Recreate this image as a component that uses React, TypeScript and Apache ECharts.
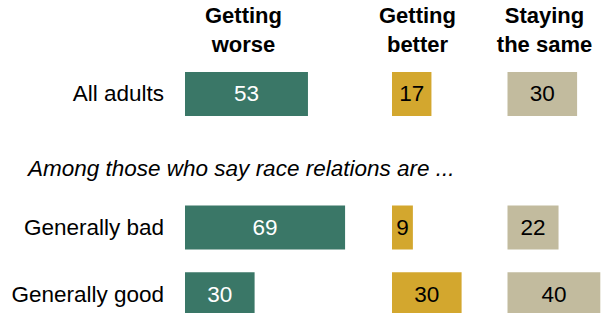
import React, { useEffect, useRef } from "react";
import * as echarts from "echarts";

const categories = ["All adults", "", "Generally bad", "Generally good"];
const worse = [53, null, 69, 30];
const better = [17, null, 9, 30];
const same = [30, null, 22, 40];
const headers = ["Getting\nworse", "Getting\nbetter", "Staying\nthe same"];
const subhead = "Among those who say race relations are ...";

const GREEN = "#3a7767";
const GOLD = "#d3a72e";
const BEIGE = "#c2bb9e";
const FONT = "'Liberation Sans', Arial, sans-serif";

export default function App() {
  const ref = useRef<HTMLDivElement>(null);
  useEffect(() => {
    if (!ref.current) return;
    const chart = echarts.init(ref.current, undefined, { renderer: "svg" });
    const lefts = [185, 392, 507.5];
    const scaleW = 232;
    const grids = lefts.map((l) => ({
      left: l,
      width: scaleW,
      top: 60.5,
      height: 267,
      outerBoundsMode: "none",
      containLabel: false,
    }));
    const xAxes = lefts.map((_, i) => ({
      type: "value",
      gridIndex: i,
      min: 0,
      max: 100,
      show: false,
    }));
    const yAxes = lefts.map((_, i) => ({
      type: "category",
      gridIndex: i,
      data: categories,
      inverse: true,
      show: i === 0,
      axisLine: { show: false },
      axisTick: { show: false },
      axisLabel: {
        show: i === 0,
        margin: 21,
        fontSize: 22.5,
        color: "#000",
        fontFamily: FONT,
      },
    }));
    const mk = (data: (number | null)[], i: number, color: string, lc: string) => ({
      type: "bar",
      xAxisIndex: i,
      yAxisIndex: i,
      data: data.map((v) => (v == null ? "-" : v)),
      barWidth: 44,
      itemStyle: { color },
      label: {
        show: true,
        position: "inside",
        color: lc,
        fontSize: 22.5,
        fontFamily: FONT,
      },
    });
    const headerCenters = [243.5, 417.5, 544.5];
    chart.setOption({
      animation: false,
      grid: grids,
      xAxis: xAxes,
      yAxis: yAxes,
      series: [
        mk(worse, 0, GREEN, "#fff"),
        mk(better, 1, GOLD, "#000"),
        mk(same, 2, BEIGE, "#000"),
      ],
      graphic: [
        ...headers.map((h, i) => ({
          type: "text",
          x: headerCenters[i],
          y: 30,
          style: {
            text: h,
            align: "center",
            verticalAlign: "middle",
            fontSize: 22,
            fontWeight: "bold",
            lineHeight: 29,
            fontFamily: FONT,
            fill: "#000",
          },
        })),
        {
          type: "text",
          x: 28,
          y: 168,
          style: {
            text: subhead,
            align: "left",
            verticalAlign: "middle",
            fontSize: 22.5,
            fontStyle: "italic",
            fontFamily: FONT,
            fill: "#000",
          },
        },
      ],
    });
    return () => chart.dispose();
  }, []);
  return (
    <div
      ref={ref}
      style={{ position: "absolute", left: 0, top: 0, width: 602, height: 313 }}
    />
  );
}
